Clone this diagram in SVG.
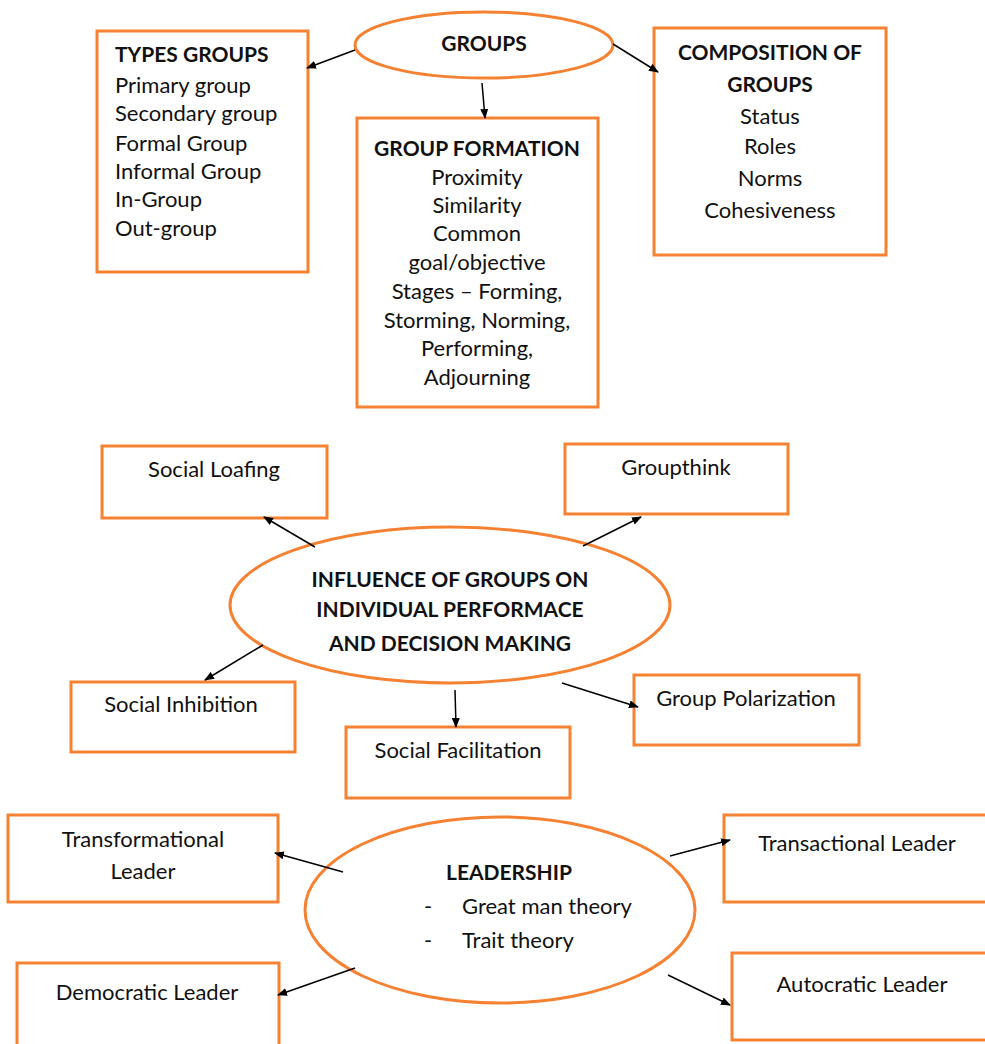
<svg xmlns="http://www.w3.org/2000/svg" width="985" height="1044" viewBox="0 0 985 1044">
<defs>
<marker id="ah" markerWidth="10" markerHeight="8" refX="9" refY="4" orient="auto" markerUnits="userSpaceOnUse">
<path d="M0,0 L10,4 L0,8 z" fill="#000"/>
</marker>
<style>
.box{fill:#fff;stroke:#f58233;stroke-width:3}
.ell{fill:#fff;stroke:#f58233;stroke-width:3}
.t{font-family:Lato,"Liberation Sans",sans-serif;font-size:22px;fill:#111}
.b{font-weight:bold;font-size:21px}
.c{text-anchor:middle}
.conn line{stroke:#000;stroke-width:1.5;marker-end:url(#ah)}
</style>
</defs>
<rect width="985" height="1044" fill="#fff"/>

<g id="types-groups">
<rect class="box" x="97" y="31" width="211" height="241"/>
<text class="t b" x="115" y="62">TYPES GROUPS</text>
<text class="t" x="115" y="93">Primary group</text>
<text class="t" x="115" y="121">Secondary group</text>
<text class="t" x="115" y="151">Formal Group</text>
<text class="t" x="115" y="179">Informal Group</text>
<text class="t" x="115" y="207">In-Group</text>
<text class="t" x="115" y="236">Out-group</text>
</g>

<g id="groups">
<ellipse class="ell" cx="484" cy="45" rx="129" ry="33"/>
<text class="t b c" x="484" y="51">GROUPS</text>
</g>

<g id="composition">
<rect class="box" x="654" y="28" width="232" height="227"/>
<text class="t b c" x="770" y="60">COMPOSITION OF</text>
<text class="t b c" x="770" y="92">GROUPS</text>
<text class="t c" x="770" y="124">Status</text>
<text class="t c" x="770" y="154">Roles</text>
<text class="t c" x="770" y="186">Norms</text>
<text class="t c" x="770" y="218">Cohesiveness</text>
</g>

<g id="group-formation">
<rect class="box" x="357" y="118" width="241" height="289"/>
<text class="t b c" x="477" y="156">GROUP FORMATION</text>
<text class="t c" x="477" y="185">Proximity</text>
<text class="t c" x="477" y="213">Similarity</text>
<text class="t c" x="477" y="241">Common</text>
<text class="t c" x="477" y="270">goal/objective</text>
<text class="t c" x="477" y="299">Stages – Forming,</text>
<text class="t c" x="477" y="328">Storming, Norming,</text>
<text class="t c" x="477" y="356">Performing,</text>
<text class="t c" x="477" y="385">Adjourning</text>
</g>

<g id="social-loafing">
<rect class="box" x="102" y="446" width="225" height="72"/>
<text class="t c" x="214" y="477">Social Loafing</text>
</g>

<g id="groupthink">
<rect class="box" x="565" y="444" width="223" height="70"/>
<text class="t c" x="676" y="475">Groupthink</text>
</g>

<g id="influence">
<ellipse class="ell" cx="450" cy="605" rx="220" ry="78"/>
<text class="t b c" x="450" y="587">INFLUENCE OF GROUPS ON</text>
<text class="t b c" x="450" y="617">INDIVIDUAL PERFORMACE</text>
<text class="t b c" x="450" y="651">AND DECISION MAKING</text>
</g>

<g id="social-inhibition">
<rect class="box" x="71" y="682" width="224" height="70"/>
<text class="t c" x="181" y="712">Social Inhibition</text>
</g>

<g id="social-facilitation">
<rect class="box" x="346" y="727" width="224" height="71"/>
<text class="t c" x="458" y="758">Social Facilitation</text>
</g>

<g id="group-polarization">
<rect class="box" x="634" y="675" width="225" height="70"/>
<text class="t c" x="746" y="706">Group Polarization</text>
</g>

<g id="transformational">
<rect class="box" x="8" y="815" width="270" height="87"/>
<text class="t c" x="143" y="847">Transformational</text>
<text class="t c" x="143" y="879">Leader</text>
</g>

<g id="transactional">
<rect class="box" x="724" y="815" width="275" height="87"/>
<text class="t c" x="857" y="851">Transactional Leader</text>
</g>

<g id="leadership">
<ellipse class="ell" cx="500" cy="910" rx="195" ry="93"/>
<text class="t b c" x="509" y="880">LEADERSHIP</text>
<text class="t" x="424" y="914">-</text>
<text class="t" x="462" y="914">Great man theory</text>
<text class="t" x="424" y="948">-</text>
<text class="t" x="462" y="948">Trait theory</text>
</g>

<g id="democratic">
<rect class="box" x="17" y="963" width="262" height="95"/>
<text class="t c" x="147" y="1000">Democratic Leader</text>
</g>

<g id="autocratic">
<rect class="box" x="732" y="953" width="265" height="87"/>
<text class="t c" x="862" y="992">Autocratic Leader</text>
</g>

<g id="connectors" class="conn">
<line x1="355" y1="50" x2="307" y2="68"/>
<line x1="613" y1="44" x2="658" y2="72"/>
<line x1="482" y1="83" x2="485" y2="118"/>
<line x1="315" y1="547" x2="264" y2="517"/>
<line x1="583" y1="546" x2="641" y2="517"/>
<line x1="263" y1="645" x2="205" y2="680"/>
<line x1="455" y1="690" x2="456" y2="727"/>
<line x1="562" y1="683" x2="638" y2="707"/>
<line x1="343" y1="872" x2="275" y2="853"/>
<line x1="670" y1="856" x2="730" y2="840"/>
<line x1="355" y1="968" x2="278" y2="995"/>
<line x1="668" y1="975" x2="730" y2="1005"/>
</g>
</svg>
